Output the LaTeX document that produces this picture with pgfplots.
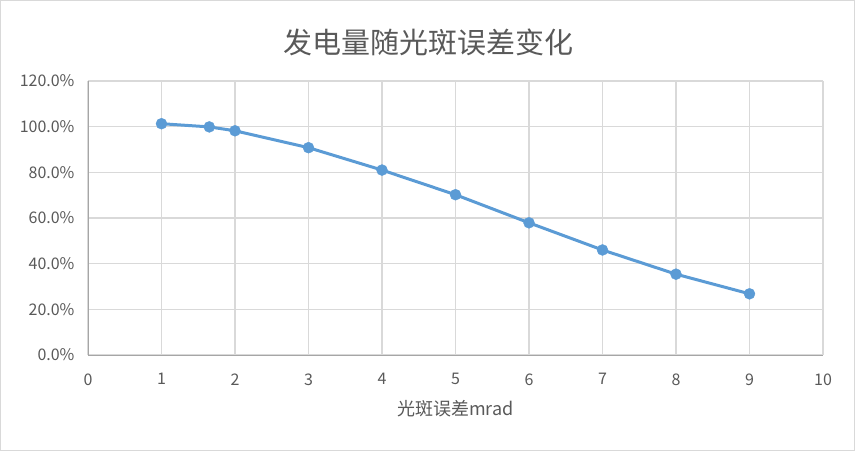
\documentclass[border=0pt]{standalone}
\usepackage{fontspec}
\setmainfont{Noto Sans CJK SC}
\usepackage{pgfplots}
\pgfplotsset{compat=1.18}
\definecolor{linecol}{HTML}{5B9BD5}
\definecolor{txt}{HTML}{595959}
\definecolor{gridc}{HTML}{D9D9D9}

\begin{document}
\begin{tikzpicture}[x=1pt,y=1pt]
\draw[gridc, line width=1pt] (0.5,0.5) rectangle (854.5,450.5);
\begin{axis}[
    at={(88pt,96pt)}, anchor=south west,
    scale only axis,
    width=735pt, height=274pt,
    xmin=0, xmax=10, ymin=0, ymax=120,
    xtick={0,1,...,10},
    ytick={0,20,...,120},
    grid=major,
    major grid style={gridc, line width=1.2pt},
    axis line style={draw=none},
    tick style={draw=none},
    axis x line*=bottom, axis y line*=left,
    /pgf/number format/assume math mode=true,
    ticklabel style={font=\fontsize{16}{18}\selectfont, text=txt},
    yticklabel={\pgfmathprintnumber[fixed,fixed zerofill,precision=1]{\tick}\%},
    yticklabel style={xshift=-10pt},
    xticklabel style={yshift=-15pt},
    xlabel={光斑误差mrad},
    xlabel style={font=\fontsize{18}{20}\selectfont, text=txt, yshift=-8pt},
    title={发电量随光斑误差变化},
    title style={font=\fontsize{29}{32}\selectfont, text=txt, xshift=-27pt, yshift=16pt},
    clip=false,
]
\draw[black!35, line width=1pt] (axis cs:0,0) -- (axis cs:0,120);
\draw[black!35, line width=1pt] (axis cs:0,0) -- (axis cs:10,0);
\addplot[color=linecol, line width=3pt, mark=*, mark size=5.5pt,
         mark options={fill=linecol, draw=linecol, line width=0.4pt}] coordinates {
    (1,101.3) (1.65,99.9) (2,98.2) (3,90.8) (4,81.0) (5,70.2)
    (6,57.9) (7,46.0) (8,35.4) (9,26.8)
};
\end{axis}
\end{tikzpicture}
\end{document}
